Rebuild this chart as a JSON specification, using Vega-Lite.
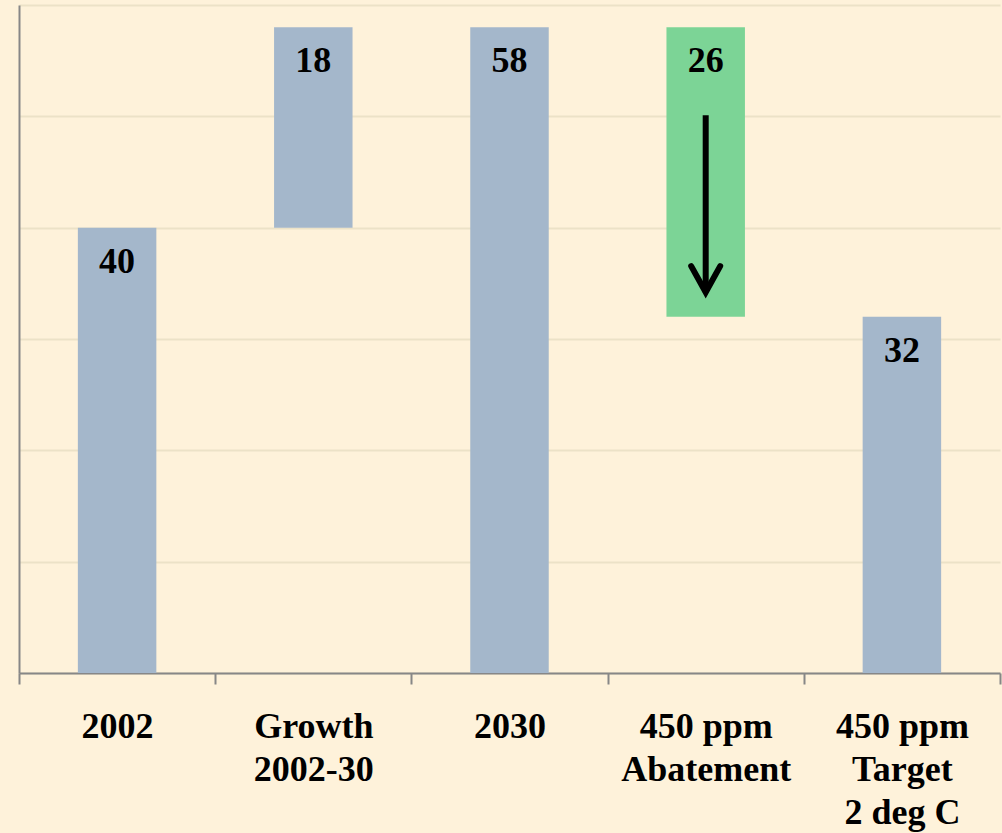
{
  "$schema": "https://vega.github.io/schema/vega-lite/v6.json",
  "width": 981,
  "height": 668,
  "autosize": {"type": "none"},
  "padding": {"left": 19, "top": 5, "right": 2, "bottom": 160},
  "background": "#FEF2DA",
  "config": {
    "view": {"stroke": null},
    "font": "Liberation Serif"
  },
  "datasets": {
    "bars": [
      {"category": "2002", "low": 0, "high": 40, "label": "40", "kind": "level"},
      {"category": "Growth|2002-30", "low": 40, "high": 58, "label": "18", "kind": "level"},
      {"category": "2030", "low": 0, "high": 58, "label": "58", "kind": "level"},
      {"category": "450 ppm|Abatement", "low": 32, "high": 58, "label": "26", "kind": "abatement"},
      {"category": "450 ppm|Target|2 deg C", "low": 0, "high": 32, "label": "32", "kind": "level"}
    ],
    "arrow": [
      {"category": "450 ppm|Abatement", "from": 50.1, "to": 34.2}
    ]
  },
  "layer": [
    {
      "data": {"name": "bars"},
      "mark": {"type": "bar", "width": {"band": 0.4}},
      "encoding": {
        "x": {
          "field": "category",
          "type": "nominal",
          "sort": null,
          "scale": {"paddingInner": 0, "paddingOuter": 0},
          "axis": {
            "title": null,
            "labelAngle": 0,
            "labelExpr": "isValid(datum.value) ? split(datum.value, '|') : ''",
            "labelFont": "Liberation Serif",
            "labelFontWeight": "bold",
            "labelFontSize": 36,
            "labelColor": "#000000",
            "labelLineHeight": 43,
            "labelPadding": 25,
            "labelBaseline": "top",
            "labelOverlap": false,
            "labelBound": false,
            "tickBand": "extent",
            "tickSize": 11,
            "tickWidth": 2,
            "tickColor": "#878787",
            "domainColor": "#878787",
            "domainWidth": 2,
            "grid": false
          }
        },
        "y": {
          "field": "low",
          "type": "quantitative",
          "scale": {"domain": [0, 60], "nice": false},
          "axis": {
            "title": null,
            "labels": false,
            "ticks": false,
            "values": [0, 10, 20, 30, 40, 50, 60],
            "grid": true,
            "gridColor": "#ECE2C7",
            "gridWidth": 2,
            "domainColor": "#878787",
            "domainWidth": 2
          }
        },
        "y2": {"field": "high"},
        "color": {
          "field": "kind",
          "type": "nominal",
          "scale": {"domain": ["level", "abatement"], "range": ["#A4B7CB", "#7CD496"]},
          "legend": null
        }
      }
    },
    {
      "data": {"name": "bars"},
      "mark": {"type": "text", "baseline": "top", "dy": 17, "fontSize": 36, "fontWeight": "bold", "font": "Liberation Serif", "color": "#000000"},
      "encoding": {
        "x": {"field": "category", "type": "nominal", "sort": null},
        "y": {"field": "high", "type": "quantitative"},
        "text": {"field": "label"}
      }
    },
    {
      "data": {"name": "arrow"},
      "mark": {"type": "rule", "strokeWidth": 6, "color": "#000000"},
      "encoding": {
        "x": {"field": "category", "type": "nominal", "sort": null},
        "y": {"field": "from", "type": "quantitative"},
        "y2": {"field": "to"}
      }
    },
    {
      "data": {"name": "arrow"},
      "mark": {"type": "point", "shape": "M-1,-1.8L0,0L1,-1.8", "size": 841, "filled": false, "strokeWidth": 6, "strokeCap": "round", "strokeJoin": "miter", "color": "#000000", "opacity": 1},
      "encoding": {
        "x": {"field": "category", "type": "nominal", "sort": null},
        "y": {"field": "to", "type": "quantitative"}
      }
    }
  ]
}
